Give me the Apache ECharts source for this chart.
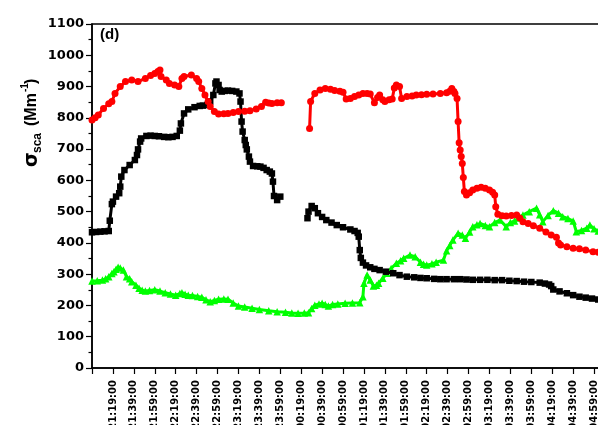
<!DOCTYPE html>
<html><head><meta charset="utf-8">
<script src="https://cdn.jsdelivr.net/npm/echarts/dist/echarts.min.js"></script>
<style>html,body{margin:0;padding:0;background:#fff}#c{width:598px;height:425px}</style>
</head><body><div id="c"></div><script>
// ---- data (clock times, values in Mm^-1) ----
const blackTimes = ['20:59','21:03','21:07','21:11','21:15','21:16','21:18','21:19','21:22','21:25','21:26','21:27','21:30','21:35','21:40','21:42','21:43','21:45','21:46','21:51','21:55','21:59','22:03','22:08','22:12','22:16','22:20','22:23','22:24','22:27','22:31','22:37','22:42','22:45','22:49','22:52','22:55','22:57','22:58','23:00','23:01','23:03','23:06','23:09','23:13','23:17','23:20','23:21','23:22','23:23','23:25','23:26','23:27','23:29','23:30','23:33','23:37','23:40','23:43','23:46','23:49','23:51','23:52','23:53','23:56','23:59',
  '00:10',
  '00:25','00:26','00:29','00:32','00:35','00:39','00:43','00:48','00:53','00:59','01:06','01:10','01:13','01:14','01:15','01:16','01:18','01:21','01:25','01:29','01:34','01:40','01:47','01:53','02:00','02:07','02:13','02:19','02:26','02:32','02:38','02:45','02:51','02:57','03:03','03:10','03:17','03:24','03:31','03:38','03:45','03:52','03:59','04:07','04:12','04:16','04:18','04:20','04:26','04:33','04:39','04:45','04:51','04:57','05:03'];
const blackValues = [434,435,436,437,438,471,524,532,548,559,580,612,633,649,665,681,699,724,734,742,743,742,741,739,738,739,742,759,782,814,827,834,838,839,841,852,873,910,916,905,889,884,886,887,886,884,878,852,788,756,729,713,699,676,660,646,645,644,640,633,628,622,596,550,537,548,
  null,
  479,500,518,511,495,483,473,465,457,450,443,438,432,420,377,352,337,328,322,317,313,308,303,297,292,290,288,287,285,284,284,284,284,283,282,282,282,281,281,279,278,276,275,273,270,267,262,251,245,239,233,228,225,222,219];

const redTimes = ['20:59','21:02','21:05','21:10','21:15','21:18','21:21','21:26','21:31','21:37','21:43','21:50','21:55','21:59','22:02','22:04','22:05','22:10','22:13','22:18','22:22','22:25','22:27','22:34','22:39','22:41','22:44','22:47','22:50','22:52','22:56','23:00','23:05','23:09','23:14','23:19','23:25','23:30','23:36','23:41','23:45','23:48','23:51','23:56','00:00',
  '00:12',
  '00:27','00:28','00:32','00:37','00:42','00:47','00:51','00:56','00:59','01:02','01:06','01:10','01:14','01:18','01:22','01:25','01:29','01:32','01:34','01:37','01:39','01:43','01:46','01:48','01:50','01:53','01:55','02:00','02:05','02:09','02:14','02:19','02:25','02:32','02:38','02:41','02:43','02:45','02:46','02:48','02:49','02:50','02:51','02:52','02:53','02:54','02:55','02:57','03:00','03:03','03:07','03:11','03:15','03:19','03:22','03:24','03:25','03:27','03:31','03:35','03:40','03:45','03:48','03:51','03:56','04:01','04:07','04:13','04:18','04:23','04:25','04:27','04:33','04:39','04:45','04:51','04:58','05:03'];
const redValues = [793,800,809,830,845,852,878,900,916,921,916,926,935,942,948,953,932,921,910,905,900,926,932,937,926,916,894,873,852,836,820,812,813,814,817,820,821,823,828,836,850,847,846,848,848,
  null,
  766,852,878,889,894,891,887,885,882,860,862,868,873,878,878,876,848,865,873,858,852,858,860,895,905,900,862,868,870,873,874,875,876,878,880,885,894,884,878,862,788,720,697,676,654,609,564,553,560,569,575,578,575,569,562,553,516,492,487,486,488,489,480,468,462,455,447,435,425,418,400,393,388,383,381,377,372,370];

const greenTimes = ['20:59','21:04','21:09','21:12','21:15','21:18','21:20','21:22','21:24','21:26','21:29','21:32','21:35','21:37','21:41','21:44','21:47','21:50','21:54','21:59','22:04','22:09','22:14','22:19','22:23','22:25','22:28','22:31','22:35','22:40','22:44','22:48','22:52','22:56','23:00','23:05','23:09','23:14','23:19','23:25','23:32','23:39','23:48','23:56','00:04','00:10','00:16','00:22','00:26','00:29','00:32','00:36','00:39','00:42','00:45','00:49','00:54','01:01','01:08','01:15','01:18','01:19','01:22','01:25','01:28','01:31','01:33','01:37','01:41','01:45','01:50','01:54','01:57','02:03','02:08','02:13','02:16','02:19','02:24','02:28','02:35','02:38','02:41','02:44','02:49','02:53','02:56','03:00','03:03','03:07','03:10','03:15','03:19','03:24','03:29','03:35','03:39','03:43','03:47','03:51','03:57','04:04','04:07','04:10','04:15','04:20','04:25','04:29','04:34','04:39','04:42','04:47','04:52','04:55','04:59','05:03'];
const greenValues = [278,279,281,285,292,302,308,316,322,320,313,292,285,276,265,255,249,246,248,250,246,241,237,233,238,241,236,233,232,229,226,218,212,216,220,221,220,208,198,195,191,187,183,180,178,176,175,176,177,190,201,205,207,203,198,203,205,207,208,209,228,271,297,281,262,265,271,287,303,318,335,343,351,361,356,338,332,329,333,338,345,375,392,409,431,425,415,435,452,458,462,456,452,465,473,452,465,470,480,489,500,511,490,468,488,503,495,484,478,470,436,440,447,457,445,438];

const xTickLabels = ['','21:19:00','21:39:00','21:59:00','22:19:00','22:39:00','22:59:00','23:19:00','23:39:00','23:59:00','00:19:00','00:39:00','00:59:00','01:19:00','01:39:00','01:59:00','02:19:00','02:39:00','02:59:00','03:19:00','03:39:00','03:59:00','04:19:00','04:39:00','04:59:00','05:19:00'];

// ---- helpers ----
const ORIGIN = 20 * 60 + 59; // axis starts at 20:59
function toMin(s) { const p = s.split(':'); const h = +p[0], m = +p[1]; let v = h * 60 + m; if (h < 12) v += 1440; return v - ORIGIN; }
function pairs(ts, vs) { return ts.map((t, i) => [toMin(t), vs[i] === null ? '-' : vs[i]]); }

const chart = echarts.init(document.getElementById('c'), null, { renderer: 'canvas' });
const lbl = 'DejaVu Sans';
const ttl = '"Liberation Sans", Arial, sans-serif';
function mk(name, ts, vs, color, symbol, size, z) {
  return { name, type: 'line', data: pairs(ts, vs), symbol, symbolSize: size, showAllSymbol: true,
    connectNulls: false, z, itemStyle: { color, borderWidth: 0 }, lineStyle: { color, width: 3 },
    emphasis: { disabled: true }, animation: false };
}
chart.setOption({
  animation: false,
  backgroundColor: '#fff',
  grid: { left: 92, top: 24, right: -17, bottom: 57, show: true, borderColor: '#000', borderWidth: 1.5, backgroundColor: 'transparent', outerBoundsMode: 'none', containLabel: false },
  xAxis: { type: 'value', min: 0, max: 500, interval: 20,
    axisLine: { show: true, onZero: false, lineStyle: { color: '#000', width: 1.5 } },
    axisTick: { show: true, inside: false, length: 6, lineStyle: { color: '#000', width: 1.2 } },
    minorTick: { show: false }, splitLine: { show: false },
    axisLabel: { rotate: 90, margin: 12, color: '#000', fontFamily: lbl, fontWeight: 'bold', fontSize: 10,
      formatter: v => xTickLabels[Math.round(v / 20)] || '' } },
  yAxis: { type: 'value', min: 0, max: 1100, interval: 100,
    axisLine: { show: true, lineStyle: { color: '#000', width: 1.5 } },
    axisTick: { show: true, inside: false, length: 6, lineStyle: { color: '#000', width: 1.2 } },
    minorTick: { show: true, splitNumber: 2, length: 3.5, lineStyle: { color: '#000', width: 1.2 } },
    splitLine: { show: false },
    axisLabel: { margin: 8, color: '#000', fontFamily: lbl, fontWeight: 'bold', fontSize: 13, formatter: v => String(v) } },
  series: [
    mk('green', greenTimes, greenValues, '#00ff00', 'triangle', 7.5, 2),
    mk('black', blackTimes, blackValues, '#000000', 'rect', 6.5, 3),
    mk('red', redTimes, redValues, '#ff0000', 'circle', 7, 4)
  ],
  graphic: [
    { type: 'text', left: 100, top: 27, z: 10, style: { text: '(d)', font: 'bold 15px ' + ttl, fill: '#000' } },
    { type: 'group', x: 32, y: 168, rotation: Math.PI / 2, z: 10, children: [
      { type: 'text', x: 1, y: 0, style: { text: 'σ', font: 'bold 19px "DejaVu Sans", sans-serif', fill: '#000', verticalAlign: 'middle', align: 'left' } },
      { type: 'text', x: 15, y: 6, style: { text: 'sca', font: 'bold 12px ' + ttl, fill: '#000', verticalAlign: 'middle', align: 'left' } },
      { type: 'text', x: 42, y: 0, style: { text: '(Mm', font: 'bold 16px ' + ttl, fill: '#000', verticalAlign: 'middle', align: 'left' } },
      { type: 'text', x: 76, y: -6.5, style: { text: '-1', font: 'bold 10px ' + ttl, fill: '#000', verticalAlign: 'middle', align: 'left' } },
      { type: 'text', x: 84, y: 0, style: { text: ')', font: 'bold 16px ' + ttl, fill: '#000', verticalAlign: 'middle', align: 'left' } }
    ] }
  ]
});
</script></body></html>
